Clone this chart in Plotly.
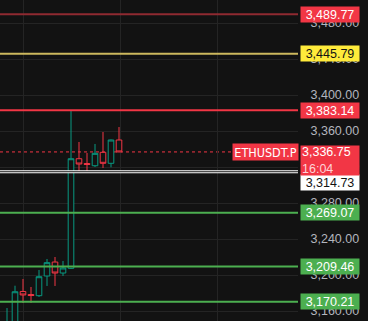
import plotly.graph_objects as go

# ---- data ----
idx = list(range(15))
opens = [3130.0, 3145.0, 3181.7, 3178.3, 3177.0, 3198.9, 3214.4, 3202.2, 3207.4, 3329.2, 3323.9, 3321.4, 3336.3, 3324.1, 3350.0]
highs = [3163.3, 3188.1, 3195.6, 3186.7, 3205.6, 3217.8, 3220.0, 3215.6, 3383.3, 3347.8, 3335.6, 3345.6, 3358.9, 3350.5, 3364.4]
lows = [3120.0, 3135.0, 3168.9, 3168.9, 3175.6, 3187.8, 3187.8, 3198.9, 3206.7, 3313.3, 3313.7, 3320.0, 3318.9, 3319.7, 3336.5]
closes = [3145.0, 3181.4, 3177.8, 3177.2, 3198.1, 3213.7, 3202.2, 3207.8, 3329.2, 3323.3, 3322.8, 3335.2, 3324.1, 3350.0, 3336.75]

level_values = [3489.77, 3445.79, 3383.14, 3314.73, 3269.07, 3209.46, 3170.21]
level_kinds = ["red_dim", "yellow", "red", "white", "green", "green", "green"]
current_price = 3336.75
symbol = "ETHUSDT.P"
countdown = "16:04"
tick_values = [3160, 3200, 3240, 3280, 3320, 3360, 3400, 3440, 3480]

BG = "#121212"
GRID = "#242424"
UP = "#089981"
DOWN = "#f23645"

line_style = {
    "red_dim": dict(color="#8f2a31", width=2),
    "yellow": dict(color="#cdb85e", width=2),
    "red": dict(color="#f23645", width=2),
    "white": dict(color="#ffffff", width=3),
    "green": dict(color="#4caf50", width=2),
}
label_style = {
    "red_dim": ("#f23645", "#ffffff"),
    "yellow": ("#ffeb3b", "#131313"),
    "red": ("#f23645", "#ffffff"),
    "white": ("#ffffff", "#131313"),
    "green": ("#4caf50", "#ffffff"),
}
label_shift = {"white": -11}

fig = go.Figure()
fig.add_trace(go.Candlestick(
    x=idx, open=opens, high=highs, low=lows, close=closes,
    increasing=dict(line=dict(color=UP, width=1), fillcolor=BG),
    decreasing=dict(line=dict(color=DOWN, width=1), fillcolor=BG),
    whiskerwidth=0, showlegend=False, hoverinfo="skip",
))

shapes = []
for v, k in zip(level_values, level_kinds):
    shapes.append(dict(type="line", xref="x domain", x0=0, x1=1, yref="y", y0=v, y1=v,
                       line=line_style[k], layer="above"))
    if k == "white":
        shapes.append(dict(type="line", xref="x domain", x0=0, x1=1, yref="y", y0=v, y1=v,
                           line=dict(color=BG, width=1), layer="above"))
shapes.append(dict(type="line", xref="x domain", x0=0, x1=1, yref="y", y0=current_price, y1=current_price,
                   line=dict(color=DOWN, width=1, dash="dot"), layer="below"))

FONT = "Liberation Sans"
NARROW = "Liberation Sans Narrow, Arial Narrow, DejaVu Sans Condensed, Liberation Sans"
LX = 300 / 368
annotations = []
for v, k in zip(level_values, level_kinds):
    bg, fg = label_style[k]
    annotations.append(dict(
        xref="paper", x=LX, xanchor="left", yref="y", y=v, yanchor="middle",
        yshift=label_shift.get(k, 0),
        text=f"{v:,.2f}", showarrow=False, bgcolor=bg, width=56, height=13,
        borderpad=1, align="center", font=dict(family=FONT, size=12.5, color=fg)))
annotations.append(dict(
    xref="paper", x=LX, xanchor="left", yref="y", y=current_price, yanchor="top", yshift=7,
    text=f"{current_price:,.2f}<br><span style='color:#ffd3d7'>{countdown}</span>",
    showarrow=False, bgcolor=DOWN, width=56, height=27,
    borderpad=1, align="left", font=dict(family=FONT, size=12.5, color="#ffffff")))
annotations.append(dict(
    xref="paper", x=299 / 368, xanchor="right", yref="y", y=current_price, yanchor="middle",
    text=symbol, showarrow=False, bgcolor=DOWN, width=63, height=14, borderpad=1, align="center",
    font=dict(family=NARROW, size=12.5, color="#ffffff")))

fig.update_layout(
    width=368, height=321, margin=dict(l=0, r=0, t=0, b=0),
    paper_bgcolor=BG, plot_bgcolor=BG,
    shapes=shapes, annotations=annotations,
    boxgap=0.3, boxgroupgap=0.0,
    xaxis=dict(domain=[0, 298 / 368], range=[-0.875, 36.375], rangeslider=dict(visible=False),
               showticklabels=False, showgrid=True, gridcolor=GRID, gridwidth=1,
               tick0=2, dtick=12.125, zeroline=False, showline=False, ticks=""),
    yaxis=dict(side="right", range=[3148.89, 3505.56], tickvals=tick_values, tickformat=",.2f",
               showgrid=True, gridcolor=GRID, gridwidth=1, zeroline=False, showline=False,
               ticks="outside", ticklen=9, tickcolor="rgba(0,0,0,0)",
               tickfont=dict(family=FONT, size=12.5, color="#b2b5be")),
    font=dict(family=FONT),
)

fig.write_html("out.html")
